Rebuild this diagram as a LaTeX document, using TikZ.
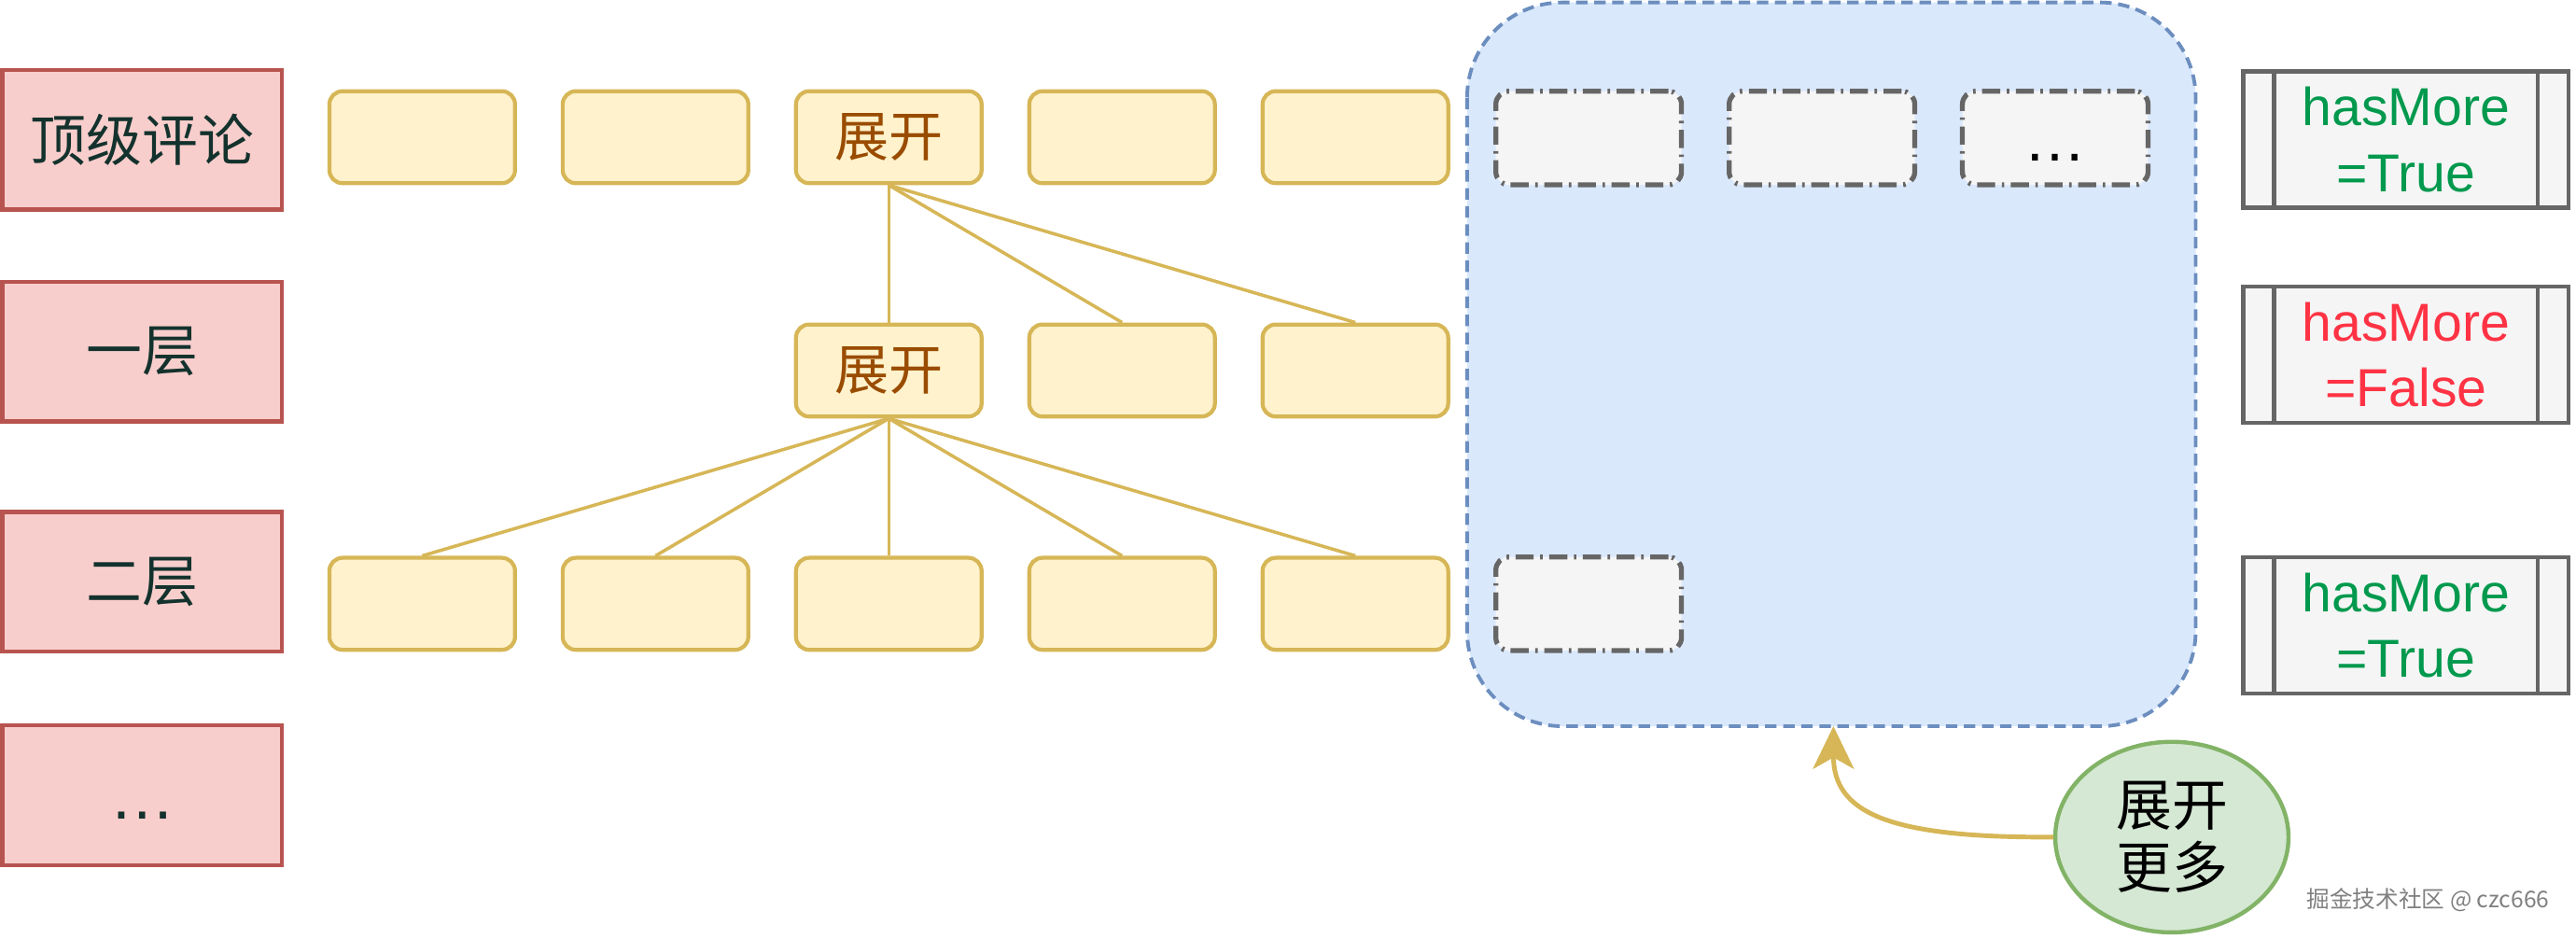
\documentclass[tikz,border=0pt]{standalone}
\usepackage{fontspec}
\setmainfont{Liberation Sans}
\newfontfamily\cjk{Noto Sans CJK SC}
\usetikzlibrary{shapes.geometric,arrows.meta}
\definecolor{redF}{HTML}{F8CECC}
\definecolor{redS}{HTML}{B85450}
\definecolor{yelF}{HTML}{FFF2CC}
\definecolor{yelS}{HTML}{D6B656}
\definecolor{bluF}{HTML}{DAE8FC}
\definecolor{bluS}{HTML}{6C8EBF}
\definecolor{gryF}{HTML}{F5F5F5}
\definecolor{gryS}{HTML}{666666}
\definecolor{grnF}{HTML}{D5E8D4}
\definecolor{grnS}{HTML}{82B366}
\definecolor{tealtxt}{HTML}{14322D}
\definecolor{browntxt}{HTML}{994C00}
\definecolor{truetxt}{HTML}{00994D}
\definecolor{falsetxt}{HTML}{FF3344}
\tikzset{
  levelbox/.style={draw=redS, fill=redF, line width=2.5pt, minimum width=170pt, minimum height=85pt, inner sep=0pt, text=tealtxt, font=\cjk\fontsize{34}{40}\selectfont},
  cbox/.style={draw=yelS, fill=yelF, line width=2.4pt, rounded corners=8pt, minimum width=113pt, minimum height=56pt, inner sep=0pt, text=browntxt, font=\cjk\fontsize{33}{38}\selectfont},
  morebox/.style={draw=gryS, fill=gryF, line width=3pt, rounded corners=8pt, minimum width=113pt, minimum height=57pt, inner sep=0pt, dash pattern=on 11pt off 4pt on 1.5pt off 4pt, font=\fontsize{38}{44}\selectfont},
  flagbox/.style={draw=gryS, fill=gryF, line width=2.5pt, minimum width=198pt, minimum height=83pt, inner sep=0pt, align=center, font=\fontsize{32.5}{40}\selectfont},
  conn/.style={draw=yelS, line width=2pt},
}
\begin{document}
\begin{tikzpicture}[x=1pt,y=-1pt]
\useasboundingbox (0,0) rectangle (1568,571);
% container
\draw[draw=bluS, fill=bluF, line width=2.2pt, dash pattern=on 7pt off 4pt, rounded corners=58pt] (893,1.5) rectangle (1336.5,442);
\coordinate (tip) at (1116,442);
% level boxes
\node[levelbox] (l0) at (86.5,85) {顶级评论};
\node[levelbox] (l1) at (86.5,214) {一层};
\node[levelbox] (l2) at (86.5,354) {二层};
\node[levelbox] (l3) at (86.5,484) {\fontspec{Liberation Sans}\fontsize{40}{44}\selectfont\vphantom{hT}…};
% top row
\node[cbox] (t1) at (257,83.5) {};
\node[cbox] (t2) at (399,83.5) {};
\node[cbox] (t3) at (541,83.5) {展开};
\node[cbox] (t4) at (683,83.5) {};
\node[cbox] (t5) at (825,83.5) {};
% middle row
\node[cbox] (m3) at (541,225.5) {展开};
\node[cbox] (m4) at (683,225.5) {};
\node[cbox] (m5) at (825,225.5) {};
% bottom row
\node[cbox] (b1) at (257,367.5) {};
\node[cbox] (b2) at (399,367.5) {};
\node[cbox] (b3) at (541,367.5) {};
\node[cbox] (b4) at (683,367.5) {};
\node[cbox] (b5) at (825,367.5) {};
% connectors
\draw[conn] (t3.south) -- (m3.north);
\draw[conn] (t3.south) -- (m4.north);
\draw[conn] (t3.south) -- (m5.north);
\draw[conn] (m3.south) -- (b1.north);
\draw[conn] (m3.south) -- (b2.north);
\draw[conn] (m3.south) -- (b3.north);
\draw[conn] (m3.south) -- (b4.north);
\draw[conn] (m3.south) -- (b5.north);
% more boxes
\node[morebox] (g1) at (967,84) {};
\node[morebox] (g2) at (1109,84) {};
\node[morebox] (g3) at (1251,84) {\vphantom{hT}…};
\node[morebox] (g4) at (967,367.5) {};
% flag boxes
\node[flagbox, text=truetxt] (f1) at (1464.5,85) {hasMore\\=True};
\node[flagbox, text=falsetxt] (f2) at (1464.5,216) {hasMore\\=False};
\node[flagbox, text=truetxt] (f3) at (1464.5,380.5) {hasMore\\=True};
\foreach \f in {f1,f2,f3}{
  \draw[draw=gryS, line width=2.5pt] ([xshift=20pt]\f.north west) -- ([xshift=20pt]\f.south west);
  \draw[draw=gryS, line width=2.5pt] ([xshift=-20pt]\f.north east) -- ([xshift=-20pt]\f.south east);
}
% expand more
\node[ellipse, draw=grnS, fill=grnF, line width=2.5pt, minimum width=142pt, minimum height=116pt, inner sep=0pt, align=center, font=\cjk\fontsize{34}{38}\selectfont] (more) at (1322,509.5) {展开\\更多};
\draw[draw=yelS, line width=2.8pt, -{Stealth[length=26pt, width=25pt, inset=7pt]}] (more.west) .. controls (1150,510) and (1116,495) .. (tip);
% watermark
\node[text=gray, font=\cjk\fontsize{14}{16}\selectfont, inner sep=0pt] (wm) at (1478,548) {掘金技术社区 @ czc666};
\end{tikzpicture}
\end{document}
